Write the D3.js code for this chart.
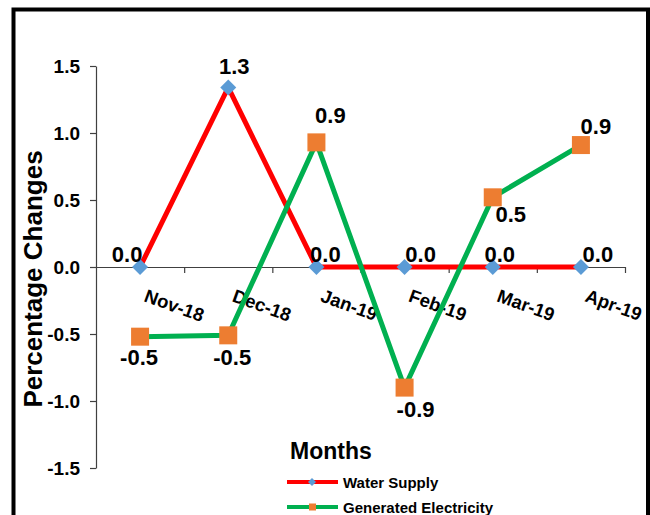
<!DOCTYPE html>
<html>
<head>
<meta charset="utf-8">
<script src="https://cdn.jsdelivr.net/npm/d3@7"></script>
<style>
  html, body { margin: 0; padding: 0; background: #fff; }
  svg { display: block; font-family: "Liberation Sans", Arial, sans-serif; }
</style>
</head>
<body>
<svg id="chart" width="650" height="515"></svg>
<script>
// ---- data ----
const months = ["Nov-18", "Dec-18", "Jan-19", "Feb-19", "Mar-19", "Apr-19"];
const waterSupply = [0.0, 1.34, 0.0, 0.0, 0.0, 0.0];
const generatedElectricity = [-0.52, -0.51, 0.93, -0.90, 0.52, 0.91];
const yTicks = [-1.5, -1.0, -0.5, 0.0, 0.5, 1.0, 1.5];
const seriesNames = ["Water Supply", "Generated Electricity"];

// ---- layout (label nudges, as placed in the original) ----
const waterLabelNudge = [[-13, -5], [6, -13], [9, -5], [16, -5], [7, -5], [17, -5]];
const elecLabelNudge = [[-1, 28], [4, 30], [14, -19], [11, 29], [18, 25], [15, -11]];

const svg = d3.select("#chart");

// frame
svg.append("rect")
  .attr("x", 13.5).attr("y", 9.5)
  .attr("width", 634.5).attr("height", 530)
  .attr("fill", "#fff").attr("stroke", "#000").attr("stroke-width", 4);

const x = d3.scaleBand().domain(months).range([96, 625]).padding(0);
const xIdx = d3.scaleLinear().domain([0, months.length]).range([96, 625]);
const y = d3.scaleLinear().domain([-1.5, 1.5]).range([468, 66]);
const cx = m => x(m) + x.bandwidth() / 2;

// y axis
const yAxis = svg.append("g")
  .attr("transform", "translate(96,0)")
  .call(d3.axisLeft(y).tickValues(yTicks).tickSize(6).tickSizeOuter(0).tickPadding(10)
    .tickFormat(d => d.toFixed(1)));
yAxis.selectAll("path, line").attr("stroke", "#404040").attr("stroke-width", 1.2);
yAxis.selectAll("text").attr("font-size", 19).attr("font-weight", "bold").attr("fill", "#000")
  .attr("font-family", "Liberation Sans, Arial, sans-serif");

// x axis at zero
const xAxis = svg.append("g")
  .attr("transform", `translate(0,${y(0)})`)
  .call(d3.axisBottom(xIdx).tickValues(d3.range(1, months.length + 1)).tickSize(6).tickSizeOuter(0)
    .tickFormat(""));
xAxis.selectAll("path, line").attr("stroke", "#404040").attr("stroke-width", 1.2);

// x category labels (rotated)
svg.append("g").selectAll("text").data(months).join("text")
  .attr("transform", d => `translate(${cx(d) + 3},${y(0) + 34}) rotate(20)`)
  .attr("font-size", 18.5).attr("font-weight", "bold").attr("fill", "#000")
  .text(d => d);

// y title
svg.append("text")
  .attr("transform", "translate(42,279) rotate(-90)")
  .attr("text-anchor", "middle")
  .attr("font-size", 26).attr("font-weight", "bold").attr("fill", "#000")
  .text("Percentage Changes");

const line = d3.line().x((d, i) => cx(months[i])).y(d => y(d));

// lines
svg.append("path").datum(waterSupply).attr("d", line)
  .attr("fill", "none").attr("stroke", "#FF0000").attr("stroke-width", 5);
svg.append("path").datum(generatedElectricity).attr("d", line)
  .attr("fill", "none").attr("stroke", "#00B050").attr("stroke-width", 5);

// markers
const diamond = s => `M0,${-s} L${s},0 L0,${s} L${-s},0 Z`;
svg.append("g").selectAll("path").data(waterSupply).join("path")
  .attr("transform", (d, i) => `translate(${cx(months[i])},${y(d)})`)
  .attr("d", diamond(8)).attr("fill", "#5B9BD5");
svg.append("g").selectAll("rect").data(generatedElectricity).join("rect")
  .attr("x", (d, i) => cx(months[i]) - 9).attr("y", d => y(d) - 9)
  .attr("width", 18).attr("height", 18).attr("fill", "#ED7D31");

// data labels
svg.append("g").selectAll("text").data(waterSupply).join("text")
  .attr("x", (d, i) => cx(months[i]) + waterLabelNudge[i][0])
  .attr("y", (d, i) => y(d) + waterLabelNudge[i][1])
  .attr("text-anchor", "middle").attr("font-size", 22).attr("font-weight", "bold").attr("fill", "#000")
  .text(d => d.toFixed(1));
svg.append("g").selectAll("text").data(generatedElectricity).join("text")
  .attr("x", (d, i) => cx(months[i]) + elecLabelNudge[i][0])
  .attr("y", (d, i) => y(d) + elecLabelNudge[i][1])
  .attr("text-anchor", "middle").attr("font-size", 22).attr("font-weight", "bold").attr("fill", "#000")
  .text(d => d.toFixed(1));

// x title
svg.append("text")
  .attr("x", 331).attr("y", 459).attr("text-anchor", "middle")
  .attr("font-size", 23).attr("font-weight", "bold").attr("fill", "#000")
  .text("Months");

// legend
const legend = svg.append("g");
const legColors = ["#FF0000", "#00B050"];
const legMarkers = ["#5B9BD5", "#ED7D31"];
const legY = [482, 507];
seriesNames.forEach((name, i) => {
  legend.append("line").attr("x1", 287).attr("x2", 338).attr("y1", legY[i]).attr("y2", legY[i])
    .attr("stroke", legColors[i]).attr("stroke-width", 4);
  if (i === 0) {
    legend.append("path").attr("transform", `translate(312,${legY[i]})`)
      .attr("d", diamond(4)).attr("fill", legMarkers[i]);
  } else {
    legend.append("rect").attr("x", 309).attr("y", legY[i] - 3.5).attr("width", 7).attr("height", 7)
      .attr("fill", legMarkers[i]);
  }
  legend.append("text").attr("x", 343).attr("y", legY[i] + 5.5)
    .attr("font-size", 15).attr("font-weight", "bold").attr("fill", "#000")
    .text(name);
});
</script>
</body>
</html>
